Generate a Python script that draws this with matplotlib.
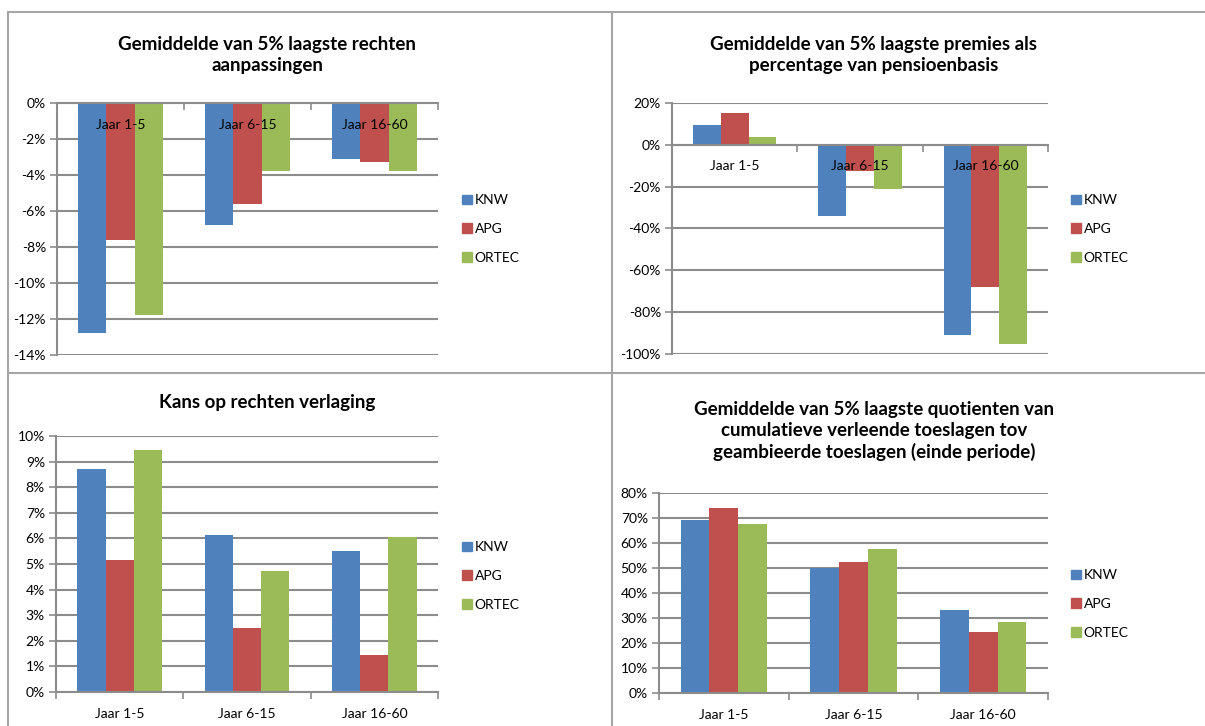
import matplotlib
matplotlib.use("Agg")
import matplotlib.pyplot as plt
from matplotlib.patches import Patch
import numpy as np

plt.rcParams['font.family'] = ['Lato', 'DejaVu Sans']

W, H = 1205, 726

categories = ["Jaar 1-5", "Jaar 6-15", "Jaar 16-60"]
series = ["KNW", "APG", "ORTEC"]
colors = ["#4F81BD", "#C0504D", "#9BBB59"]

# panel 1: Gemiddelde van 5% laagste rechten aanpassingen
rechten_knw = [-12.8, -6.8, -3.1]
rechten_apg = [-7.6, -5.6, -3.3]
rechten_ortec = [-11.8, -3.8, -3.8]
rechten_ticks = [0, -2, -4, -6, -8, -10, -12, -14]

# panel 2: premies als percentage van pensioenbasis
premies_knw = [9.3, -33.9, -91.0]
premies_apg = [15.2, -12.5, -68.0]
premies_ortec = [3.7, -21.3, -95.2]
premies_ticks = [20, 0, -20, -40, -60, -80, -100]

# panel 3: kans op rechten verlaging
kans_knw = [8.7, 6.13, 5.52]
kans_apg = [5.16, 2.49, 1.45]
kans_ortec = [9.45, 4.74, 6.05]
kans_ticks = [0, 1, 2, 3, 4, 5, 6, 7, 8, 9, 10]

# panel 4: quotienten toeslagen
quot_knw = [69.4, 49.9, 33.2]
quot_apg = [74.1, 52.3, 24.3]
quot_ortec = [67.7, 57.8, 28.6]
quot_ticks = [0, 10, 20, 30, 40, 50, 60, 70, 80]

GRID = "#8c8c8c"
FS = 10

fig = plt.figure(figsize=(W / 100, H / 100), dpi=100)


def rect(l, t, r, b):
    return [l / W, 1 - b / H, (r - l) / W, (b - t) / H]


def draw_panel(box, values, yticks, title, title_xy, legend_xy):
    ax = fig.add_axes(rect(*box))
    x = np.arange(len(categories))
    bw = 1 / 4.5
    for i, (vals, col) in enumerate(zip(values, colors)):
        ax.bar(x + (i - 1) * bw, vals, width=bw, color=col, zorder=3)
    ax.set_xlim(-0.5, len(categories) - 0.5)
    ax.set_ylim(min(yticks), max(yticks))
    ax.set_yticks(yticks)
    ax.set_yticklabels([f"{v}%" for v in yticks])
    ax.yaxis.grid(True, color=GRID, linewidth=1.5, zorder=0)
    for s in ["top", "right"]:
        ax.spines[s].set_visible(False)
    ax.spines["left"].set_color(GRID)
    ax.spines["left"].set_linewidth(1.5)
    ax.spines["bottom"].set_color(GRID)
    ax.spines["bottom"].set_linewidth(1.5)
    ax.spines["bottom"].set_zorder(4)
    ax.spines["bottom"].set_position(("data", 0))
    ax.set_xticks(np.arange(len(categories) + 1) - 0.5)
    ax.set_xticklabels([])
    ax.tick_params(axis="x", which="major", length=5, width=1.2, color=GRID)
    ax.tick_params(axis="y", length=5, width=1.2, color=GRID, labelsize=FS, pad=3)
    # category labels drawn above the bars, like the original
    for xi, cat in zip(x, categories):
        ax.annotate(cat, (xi, 0), xytext=(0, -15.5), textcoords="offset points",
                    ha="center", va="center", fontsize=FS, zorder=6,
                    annotation_clip=False)
    fig.text(title_xy[0] / W, 1 - title_xy[1] / H, title, ha="center", va="center",
             fontsize=13.5, fontweight="bold", linespacing=1.3)
    handles = [Patch(color=c, label=s) for c, s in zip(colors, series)]
    fig.legend(handles=handles, loc="center left",
               bbox_to_anchor=(legend_xy[0] / W, 1 - legend_xy[1] / H),
               frameon=False, fontsize=FS, handlelength=0.7, handleheight=0.7,
               handletextpad=0.2, labelspacing=1.2, borderpad=0, borderaxespad=0)
    return ax


draw_panel((57, 103, 438, 355), [rechten_knw, rechten_apg, rechten_ortec], rechten_ticks,
           "Gemiddelde van 5% laagste rechten\naanpassingen", (267, 55), (462, 229))
draw_panel((672, 103, 1048, 354), [premies_knw, premies_apg, premies_ortec], premies_ticks,
           "Gemiddelde van 5% laagste premies als\npercentage van pensioenbasis", (874, 55), (1071, 229))
draw_panel((56, 436, 438, 692), [kans_knw, kans_apg, kans_ortec], kans_ticks,
           "Kans op rechten verlaging", (267, 402), (462, 576))
draw_panel((659, 493, 1048, 693), [quot_knw, quot_apg, quot_ortec], quot_ticks,
           "Gemiddelde van 5% laagste quotienten van\ncumulatieve verleende toeslagen tov\ngeambieerde toeslagen (einde periode)",
           (874, 431), (1071, 604))

# panel border lines
border = dict(color="#a6a6a6", linewidth=1.5)
fig.add_artist(plt.Line2D([8 / W, 1], [1 - 12 / H, 1 - 12 / H], **border))
fig.add_artist(plt.Line2D([8 / W, 8 / W], [1 - 12 / H, 0], **border))
fig.add_artist(plt.Line2D([612 / W, 612 / W], [1 - 12 / H, 0], **border))
fig.add_artist(plt.Line2D([8 / W, 1], [1 - 373 / H, 1 - 373 / H], **border))

fig.savefig("out.png", dpi=100)
